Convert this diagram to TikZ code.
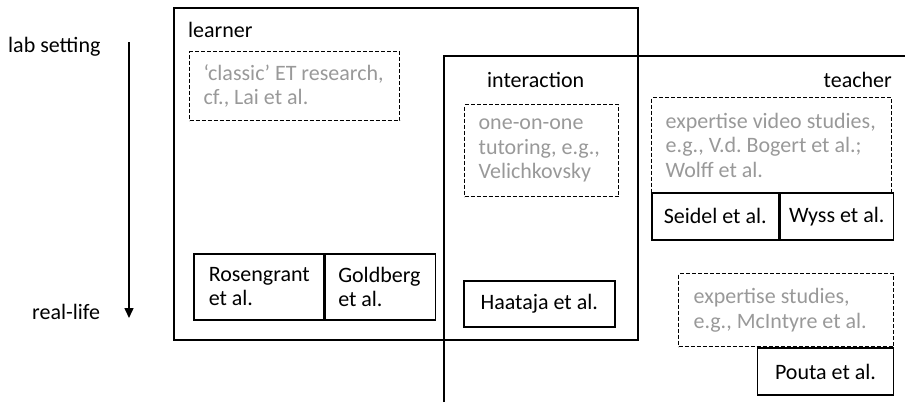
\documentclass[tikz,border=0pt]{standalone}
\usepackage{fontspec}
\setmainfont{Carlito}
\usetikzlibrary{arrows.meta, positioning}
\tikzset{
    ref/.style = {draw, line width=1.5pt, anchor=north west, inner sep=0pt, align=flush left},
    idea/.style = {ref, line width=1.3pt, dash pattern=on 4pt off 2pt, text=black!40},
    plain/.style = {inner sep=0pt},
}

\begin{document}
\begin{tikzpicture}[x=1pt, y=-1pt, font=\fontsize{22}{24.5}\selectfont\frenchspacing]
    \useasboundingbox (0,0) rectangle (905,402);
    % setting axis
    \coordinate (lab) at (129,42);
    \coordinate (real) at (129,318);
    \draw [->, >={Triangle[length=10pt, width=9pt]}, line width=1.5pt] (lab) -- (real);
    \node[plain, anchor=base west] (labtext) at (8,52) {lab setting};
    \node[plain, anchor=base west] (realtext) at (32,319) {real-life};

    % frames
    \coordinate (lrnNW) at (174,8);
    \coordinate (lrnSE) at (638,340);
    \coordinate (intS) at (444,402);
    \coordinate (intNW) at (444,56);
    \coordinate (intE) at (905,56);
    \draw[line width=1.5pt] (lrnNW) rectangle (lrnSE);
    \draw[line width=1.5pt] (intS) -- (intNW) -- (intE);
    \node[plain, anchor=base west] (learner) at (188,37) {learner};
    \node[plain, anchor=base west] (interaction) at (487,87) {interaction};
    \node[plain, anchor=base east] (teacher) at (892,87) {teacher};

    % learner
    \node[idea, minimum width=210pt, minimum height=69pt, text width=182pt] (classic) at (189,51)
        {`classic'~ET~research,\\ cf.,~Lai~et~al.};
    \node[ref, minimum width=130pt, minimum height=66pt, text width=100pt] (rosengrant) at (193,253)
        {Rosengrant\\ et~al.};
    \node[ref, minimum width=110pt, minimum height=66pt, text width=84pt, right=0pt of rosengrant.north east, anchor=north west] (goldberg)
        {Goldberg\\ et~al.};

    % interaction
    \node[idea, minimum width=154pt, minimum height=92pt, text width=126pt] (tutoring) at (464,104)
        {one-on-one\\ tutoring,~e.g.,\\ Velichkovsky};
    \node[ref, minimum width=151pt, minimum height=46pt, align=center] (haataja) at (463,280)
        {Haataja et al.};

    % teacher
    \node[idea, minimum width=240pt, minimum height=95pt, text width=212pt] (video) at (651,97)
        {expertise~video~studies,\\ e.g.,~V.d.~Bogert~et~al.;\\ Wolff~et~al.};
    \node[ref, minimum width=127pt, minimum height=47pt, align=center] (seidel) at (651,192)
        {Seidel et al.};
    \node[ref, minimum width=113pt, minimum height=47pt, align=center, right=0pt of seidel.north east, anchor=north west] (wyss)
        {Wyss et al.};
    \node[idea, minimum width=215pt, minimum height=73pt, text width=185pt] (studies) at (678,273)
        {expertise~studies,\\ e.g.,~McIntyre~et~al.};
    \node[ref, minimum width=136pt, minimum height=47pt, align=center, anchor=north east] (pouta) at (studies.south east)
        {Pouta et al.};
\end{tikzpicture}
\end{document}
